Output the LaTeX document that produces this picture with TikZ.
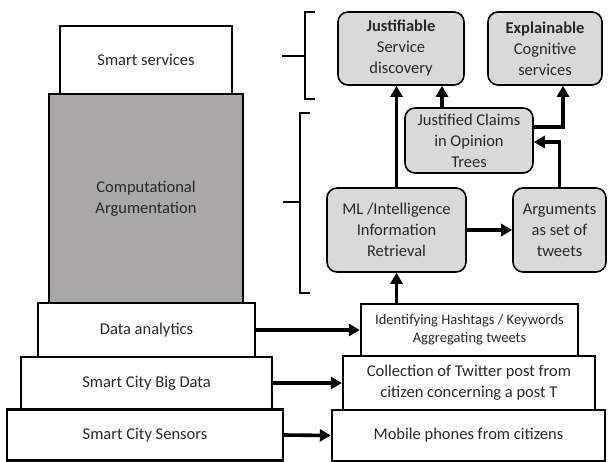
\documentclass[tikz,border=0pt]{standalone}
\usepackage{fontspec}
\setmainfont{Carlito}
\usetikzlibrary{arrows.meta}
\definecolor{txt}{RGB}{40,40,40}
\definecolor{argfill}{RGB}{170,168,168}
\definecolor{stepfill}{RGB}{217,217,217}
\begin{document}
\begin{tikzpicture}[x=1pt,y=-1pt,
  layerbox/.style={draw, line width=2.4pt, fill=white, inner sep=0pt, align=center,
    text=txt, font=\fontsize{16.5}{21}\selectfont},
  roundbox/.style={layerbox, line width=1.6pt, fill=stepfill, rounded corners=10pt},
  conn/.style={line width=3.6pt, -{Triangle[length=11pt,width=12pt]}},
  bracketline/.style={line width=2pt}
]
\useasboundingbox (0,0) rectangle (609,462);

% layered architecture (left)
\node[layerbox, minimum width=172, minimum height=68] (serv) at (146,60) {Smart services};
\node[layerbox, fill=argfill, minimum width=194, minimum height=209] (comp) at (146,198.5) {Computational\\Argumentation};
\node[layerbox, minimum width=217, minimum height=54] (da) at (146.5,330) {Data analytics};
\node[layerbox, minimum width=251, minimum height=52] (bd) at (146.5,383) {Smart City Big Data};
\node[layerbox, minimum width=276, minimum height=51] (sens) at (145,435) {Smart City Sensors};

% data pipeline (right bottom)
\node[layerbox, font=\fontsize{14.5}{18}\selectfont, minimum width=217, minimum height=52] (ident) at (469.5,330) {Identifying Hashtags / Keywords\\Aggregating tweets};
\node[layerbox, minimum width=252, minimum height=54] (coll) at (469,383) {Collection of Twitter post from\\citizen concerning a post T};
\node[layerbox, minimum width=273, minimum height=51] (mob) at (468.5,435.5) {Mobile phones from citizens};

% argumentation steps (right top)
\node[roundbox, minimum width=126, minimum height=73] (just) at (401,48.5) {\textbf{Justifiable}\\Service\\discovery};
\node[roundbox, minimum width=114, minimum height=73] (expl) at (545,48.5) {\textbf{Explainable}\\Cognitive\\services};
\node[roundbox, minimum width=128, minimum height=65] (jc) at (469,140.5) {Justified Claims\\in Opinion\\Trees};
\node[roundbox, minimum width=139, minimum height=84] (ml) at (396.5,230) {ML /Intelligence\\Information\\Retrieval};
\node[roundbox, minimum width=93, minimum height=84] (arg) at (559.5,230) {Arguments\\as set of\\tweets};

% brackets
\draw[bracketline] (315,12) -- (305,12) -- (305,99) -- (315,99);
\draw[bracketline] (282,56) -- (305,56);
\draw[bracketline] (310,113) -- (300,113) -- (300,293) -- (310,293);
\draw[bracketline] (283,202) -- (300,202);

% connectors
\draw[conn] (da.east) -- (ident.west);
\draw[conn] (bd.east) -- (coll.west);
\draw[conn] (sens.east) -- (mob.west);
\draw[conn] (ident.north -| ml.south) -- (ml.south);
\draw[conn] (ml.east) -- (arg.west);
\draw[conn] (ml.north) -- (ml.north |- just.south);
\draw[conn] ([xshift=-27pt]jc.north) -- ([xshift=-27pt]jc.north |- just.south);
\draw[conn] ([yshift=13.5pt]jc.east) -| ([xshift=18pt]expl.south);
\draw[conn] (arg.north) |- ([yshift=-1.5pt]jc.east);
\end{tikzpicture}
\end{document}
